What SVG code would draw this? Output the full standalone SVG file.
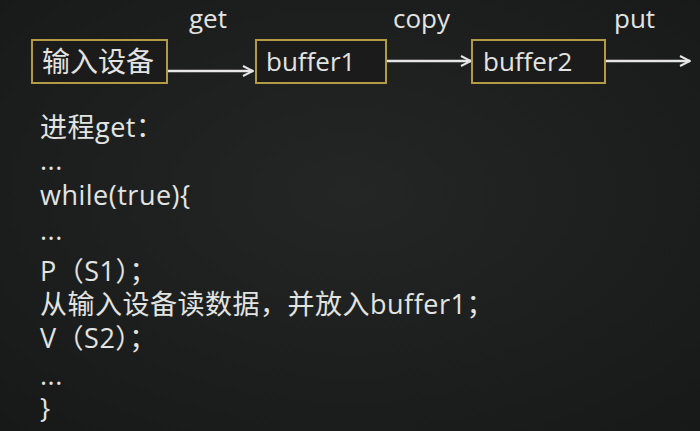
<svg xmlns="http://www.w3.org/2000/svg" width="700" height="431" viewBox="0 0 700 431">
<defs>
<radialGradient id="bg" cx="0.5" cy="0.45" r="0.8">
<stop offset="0" stop-color="#232625"/>
<stop offset="1" stop-color="#161818"/>
</radialGradient>
<marker id="ah" viewBox="0 0 12 12" refX="11" refY="6" markerWidth="12" markerHeight="12" markerUnits="userSpaceOnUse" orient="auto">
<path d="M1,1 L11,6 L1,11" fill="none" stroke="#e6e6e6" stroke-width="2"/>
</marker>
<style>
.box{fill:#1a1b1a;stroke:#b39a45;stroke-width:2}
.t{font-family:"Open Sans","Noto Sans CJK SC",sans-serif;font-size:26px;fill:#e2e4e2}
.cj{font-size:28px}
.c{font-family:"Open Sans","Noto Sans CJK SC",sans-serif;font-size:27px;letter-spacing:0.5px;fill:#e2e4e2}
.conn{stroke:#e6e6e6;stroke-width:2.5;fill:none;marker-end:url(#ah)}
</style>
</defs>
<rect width="700" height="431" fill="url(#bg)"/>
<g id="connectors">
<line class="conn" x1="168" y1="71" x2="253" y2="71"/>
<line class="conn" x1="387" y1="61" x2="471" y2="61"/>
<line class="conn" x1="606" y1="61" x2="690" y2="61"/>
<text class="t" x="189" y="28">get</text>
<text class="t" x="393" y="28">copy</text>
<text class="t" x="614" y="28">put</text>
</g>
<g id="input">
<rect class="box" x="32" y="40" width="135" height="43"/>
<text class="t cj" x="42" y="72">输入设备</text>
</g>
<g id="buffer1">
<rect class="box" x="256" y="40" width="130" height="43"/>
<text class="t" x="266" y="71">buffer1</text>
</g>
<g id="buffer2">
<rect class="box" x="472" y="40" width="133" height="43"/>
<text class="t" x="483" y="71">buffer2</text>
</g>
<g id="code">
<text class="c" x="40" y="137">进程get：</text>
<text class="c" x="40" y="170">...</text>
<text class="c" x="40" y="205">while(true){</text>
<text class="c" x="40" y="240">...</text>
<text class="c" x="40" y="281">P（S1）；</text>
<text class="c" x="40" y="314">从输入设备读数据，并放入buffer1；</text>
<text class="c" x="40" y="348">V（S2）；</text>
<text class="c" x="40" y="385">...</text>
<text class="c" x="40" y="418">}</text>
</g>
</svg>
